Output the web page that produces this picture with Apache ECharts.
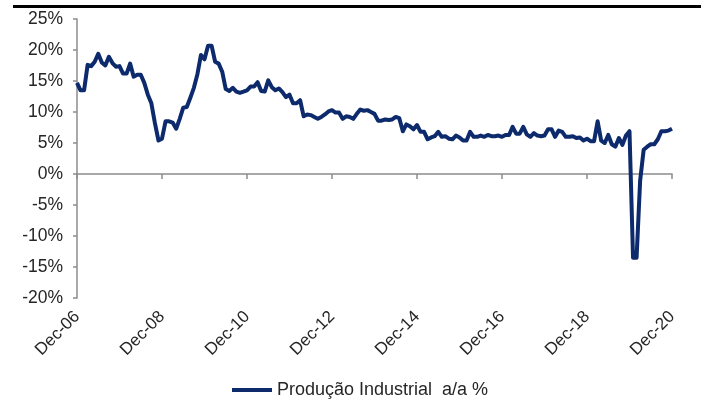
<!DOCTYPE html>
<html>
<head>
<meta charset="utf-8">
<script src="https://cdn.jsdelivr.net/npm/echarts@6/dist/echarts.min.js"></script>
<style>
html,body{margin:0;padding:0;background:#fff;}
#chart{width:709px;height:411px;}
</style>
</head>
<body>
<div id="chart"></div>
<script>
// Monthly YoY industrial production (%)
const y2006 = [14.7];
const y2007 = [13.5, 13.5, 17.6, 17.4, 18.1, 19.4, 18.0, 17.5, 18.9, 17.9, 17.3, 17.4];
const y2008 = [16.2, 16.2, 17.8, 15.7, 16.0, 16.0, 14.7, 12.8, 11.4, 8.2, 5.4, 5.7];
const y2009 = [8.5, 8.5, 8.3, 7.3, 8.9, 10.7, 10.8, 12.3, 13.9, 16.1, 19.2, 18.5];
const y2010 = [20.7, 20.7, 18.1, 17.8, 16.5, 13.7, 13.4, 13.9, 13.3, 13.1, 13.3, 13.5];
const y2011 = [14.1, 14.1, 14.8, 13.4, 13.3, 15.1, 14.0, 13.5, 13.8, 13.2, 12.4, 12.8];
const y2012 = [11.4, 11.4, 11.9, 9.3, 9.6, 9.5, 9.2, 8.9, 9.2, 9.6, 10.1, 10.3];
const y2013 = [9.9, 9.9, 8.9, 9.3, 9.2, 8.9, 9.7, 10.4, 10.2, 10.3, 10.0, 9.7];
const y2014 = [8.6, 8.6, 8.8, 8.7, 8.8, 9.2, 9.0, 6.9, 8.0, 7.7, 7.2, 7.9];
const y2015 = [6.8, 6.8, 5.6, 5.9, 6.1, 6.8, 6.0, 6.1, 5.7, 5.6, 6.2, 5.9];
const y2016 = [5.4, 5.4, 6.8, 6.0, 6.0, 6.2, 6.0, 6.3, 6.1, 6.1, 6.2, 6.0];
const y2017 = [6.3, 6.3, 7.6, 6.5, 6.5, 7.6, 6.4, 6.0, 6.6, 6.2, 6.1, 6.2];
const y2018 = [7.2, 7.2, 6.0, 7.0, 6.8, 6.0, 6.0, 6.1, 5.8, 5.9, 5.4, 5.7];
const y2019 = [5.3, 5.3, 8.5, 5.4, 5.0, 6.3, 4.8, 4.4, 5.8, 4.7, 6.2, 6.9];
const y2020 = [-13.5, -13.5, -1.1, 3.9, 4.4, 4.8, 4.8, 5.6, 6.9, 6.9, 7.0, 7.3];

const monthNames = ['Jan','Feb','Mar','Apr','May','Jun','Jul','Aug','Sep','Oct','Nov','Dec'];
const startYear = 2006;
const seriesName = 'Produção Industrial  a/a %';

const values = [].concat(y2006, y2007, y2008, y2009, y2010, y2011, y2012, y2013,
  y2014, y2015, y2016, y2017, y2018, y2019, y2020);

// categories: Dec-06 ... Dec-20
const categories = [];
for (let i = 0; i < values.length; i++) {
  const m = (11 + i) % 12;
  const yr = startYear + Math.floor((11 + i) / 12);
  categories.push(monthNames[m] + '-' + String(yr % 100).padStart(2, '0'));
}

const chart = echarts.init(document.getElementById('chart'), null, {renderer: 'canvas'});
const axisGray = '#8c8c8c';
const textColor = '#262626';
const font = 'Liberation Sans, Arial, sans-serif';

chart.setOption({
  animation: false,
  backgroundColor: '#fff',
  grid: {left: 77, right: 37, top: 19, bottom: 113},
  graphic: [{
    type: 'rect', shape: {x: 13, y: 5, width: 688, height: 3},
    style: {fill: '#000'}
  }],
  legend: {
    data: [seriesName],
    left: 227, top: 376,
    icon: 'rect', itemWidth: 40, itemHeight: 4, itemGap: 10,
    textStyle: {fontFamily: font, fontSize: 18, color: textColor}
  },
  xAxis: [{
    type: 'category', data: categories, boundaryGap: false,
    axisLine: {onZero: true, lineStyle: {color: axisGray, width: 1.5}},
    axisTick: {show: true, interval: 23, length: 5, lineStyle: {color: axisGray, width: 1.5}},
    axisLabel: {show: false}
  }, {
    type: 'category', data: categories, boundaryGap: false, position: 'bottom',
    axisLine: {show: false, onZero: false},
    axisTick: {show: false},
    axisLabel: {
      interval: 23, rotate: 45, margin: 16,
      fontFamily: font, fontSize: 17, color: textColor
    }
  }],
  yAxis: {
    type: 'value', min: -20, max: 25, interval: 5,
    axisLine: {show: true, lineStyle: {color: axisGray, width: 1.5}},
    axisTick: {show: true, length: 4, lineStyle: {color: axisGray, width: 1.5}},
    splitLine: {show: false},
    axisLabel: {formatter: '{value}%', margin: 14, fontFamily: font, fontSize: 17.5, color: textColor}
  },
  series: [{
    name: seriesName, type: 'line', data: values, xAxisIndex: 0,
    symbol: 'none', color: '#0c2a6c',
    lineStyle: {width: 4, color: '#0c2a6c', join: 'round'}
  }]
});
</script>
</body>
</html>
